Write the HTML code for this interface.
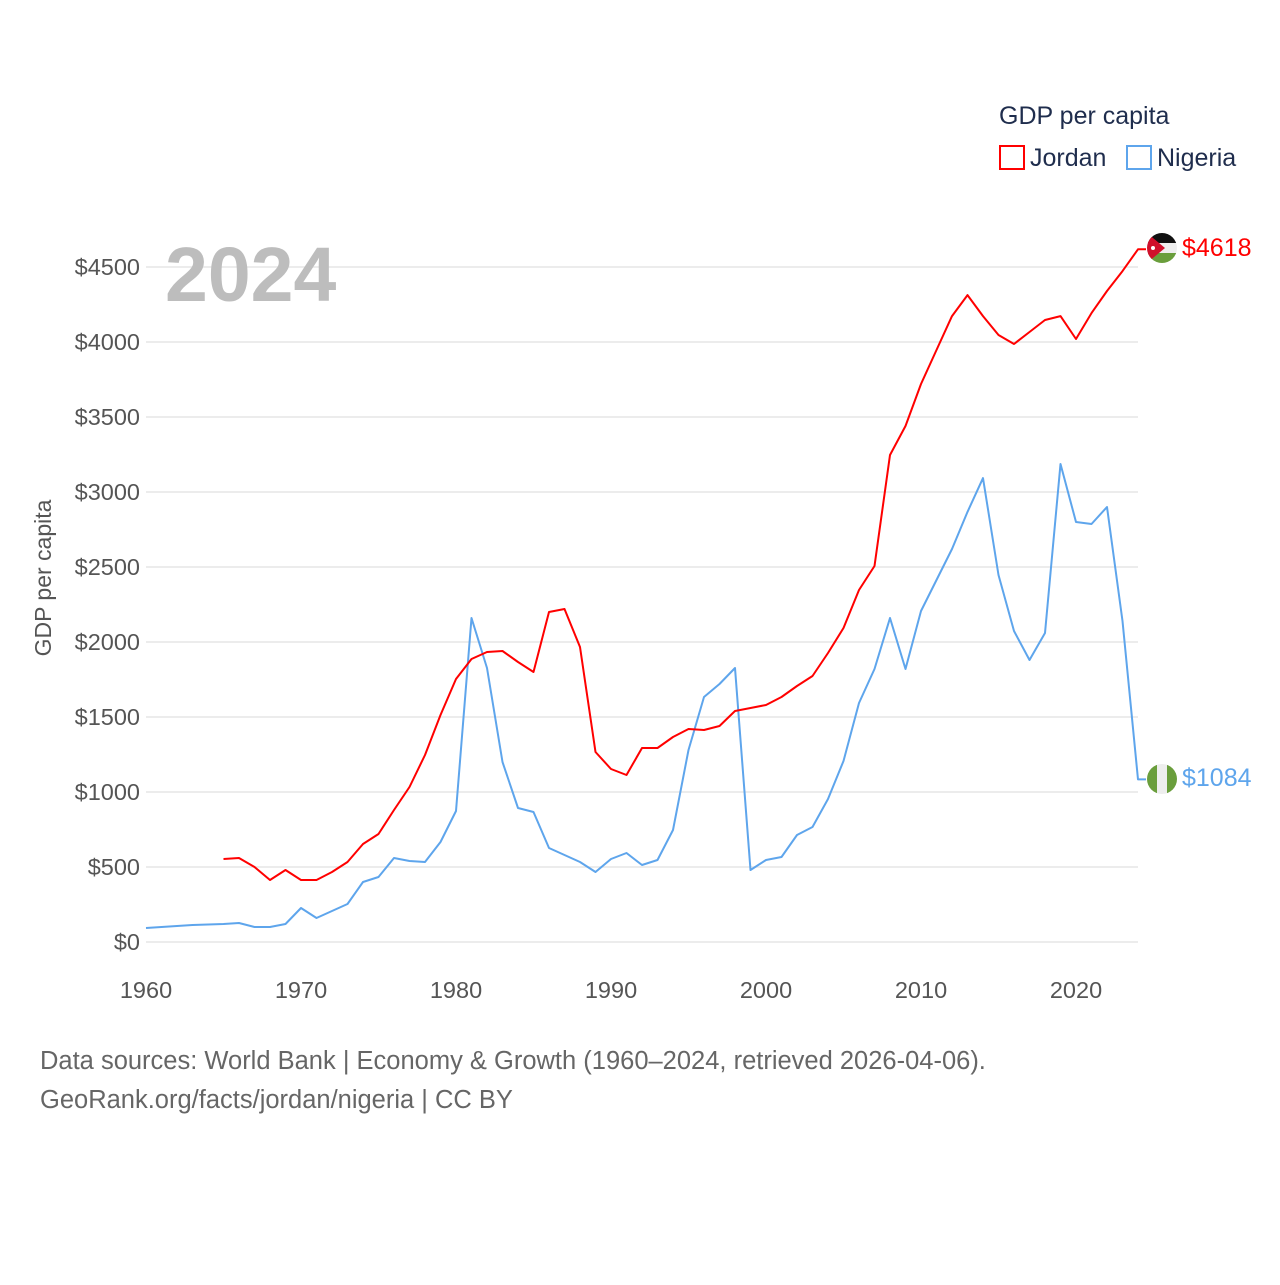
<!DOCTYPE html>
<html><head><meta charset="utf-8"><style>
body{margin:0;background:#fff;font-family:"Liberation Sans",sans-serif;}
svg text{font-family:"Liberation Sans",sans-serif;}
</style></head><body>
<svg width="1280" height="1280" viewBox="0 0 1280 1280">
<defs>
<clipPath id="cj"><circle cx="1162" cy="248" r="15"/></clipPath>
<clipPath id="cn"><circle cx="1162" cy="779" r="15"/></clipPath>
</defs>
<g id="grid"></g>
<g id="yt"></g>
<g id="xt"></g>
<text x="51" y="578" transform="rotate(-90 51 578)" text-anchor="middle" font-size="23" fill="#555">GDP per capita</text>
<text x="165" y="301" font-size="77" font-weight="bold" fill="#bdbdbd">2024</text>
<g id="lines"></g>
<g clip-path="url(#cj)">
<rect x="1147" y="233" width="30" height="10" fill="#111"/><rect x="1147" y="243" width="30" height="10" fill="#eee"/><rect x="1147" y="253" width="30" height="10" fill="#6a9e3c"/>
<polygon points="1147,233 1147,263 1165,248" fill="#d0102b"/><circle cx="1153" cy="248" r="2" fill="#fff"/>
</g>
<g clip-path="url(#cn)">
<rect x="1147" y="764" width="10" height="30" fill="#6a9e3c"/><rect x="1157" y="764" width="10" height="30" fill="#eee"/><rect x="1167" y="764" width="10" height="30" fill="#6a9e3c"/>
</g>
<text id="jl" x="1182" y="256" font-size="25" fill="#ff0000">$4618</text>
<text id="nl" x="1182" y="786" font-size="25" fill="#5ea5ec">$1084</text>
<text x="999" y="124" font-size="25" fill="#1f2d4d">GDP per capita</text>
<g><rect x="1000" y="146" width="24" height="23" fill="none" stroke="#ff0000" stroke-width="2"/><text x="1030" y="166" font-size="25" fill="#1f2d4d">Jordan</text></g>
<g><rect x="1127" y="146" width="24" height="23" fill="none" stroke="#5ea5ec" stroke-width="2"/><text x="1157" y="166" font-size="25" fill="#1f2d4d">Nigeria</text></g>
<text x="40" y="1069" font-size="25.5" fill="#666">Data sources: World Bank | Economy &amp; Growth (1960–2024, retrieved 2026-04-06).</text>
<text x="40" y="1108" font-size="25.5" fill="#666">GeoRank.org/facts/jordan/nigeria | CC BY</text>
</svg>
<script>
const yTicks=[0,500,1000,1500,2000,2500,3000,3500,4000,4500];
const xTicks=[1960,1970,1980,1990,2000,2010,2020];
const nigeriaStart=1960;
const nigeria=[93,100,107,113,117,120,127,100,100,120,227,160,207,253,400,433,560,540,533,667,873,2160,1827,1200,893,867,627,580,533,467,553,593,513,547,747,1280,1633,1720,1827,480,547,567,713,767,953,1207,1593,1820,2160,1820,2207,2413,2620,2867,3093,2447,2073,1880,2060,3187,2800,2787,2900,2140,1084];
const jordanStart=1965;
const jordan=[553,560,500,413,480,413,413,467,533,653,720,880,1033,1247,1513,1753,1887,1933,1940,1867,1800,2200,2220,1967,1267,1153,1113,1293,1293,1367,1420,1413,1440,1540,1560,1580,1633,1707,1773,1927,2093,2347,2507,3247,3440,3720,3947,4173,4313,4173,4047,3987,4067,4147,4173,4020,4193,4340,4473,4618];
const X=yr=>146+(yr-1960)*15.5;
const Y=v=>942-v*0.15;
const NS="http://www.w3.org/2000/svg";
function mk(t,a,p){const e=document.createElementNS(NS,t);for(const k in a)e.setAttribute(k,a[k]);p.appendChild(e);return e;}
const grid=document.getElementById('grid'),yt=document.getElementById('yt'),xt=document.getElementById('xt'),lines=document.getElementById('lines');
yTicks.forEach(v=>{
 const l=mk('line',{x1:146,x2:1138,y1:Y(v),y2:Y(v),stroke:'#e6e6e6','stroke-width':1.5},grid);
 
 
 const t=mk('text',{x:140,y:Y(v)+8,'text-anchor':'end','font-size':23.5,fill:'#555'},yt);
 t.textContent='$'+v;
 
 
});
xTicks.forEach(v=>{
 const t=mk('text',{x:X(v),y:998,'text-anchor':'middle','font-size':23.5,fill:'#555'},xt);
 t.textContent=v;
 
 
});
function series(arr,start,color,name){
 const pts=arr.map((v,i)=>X(start+i).toFixed(1)+','+Y(v).toFixed(1));
 const last=Y(arr[arr.length-1]);
 pts.push('1146,'+last.toFixed(1));
 const p=mk('polyline',{points:pts.join(' '),fill:'none',stroke:color,'stroke-width':2,'stroke-linejoin':'round'},lines);
 
 
}
series(nigeria,nigeriaStart,'#5ea5ec','nigeria-line');
series(jordan,jordanStart,'#ff0000','jordan-line');
const jl=document.getElementById('jl');jl.textContent='$'+jordan[jordan.length-1];
const nl=document.getElementById('nl');nl.textContent='$'+nigeria[nigeria.length-1];
</script>
</body></html>
